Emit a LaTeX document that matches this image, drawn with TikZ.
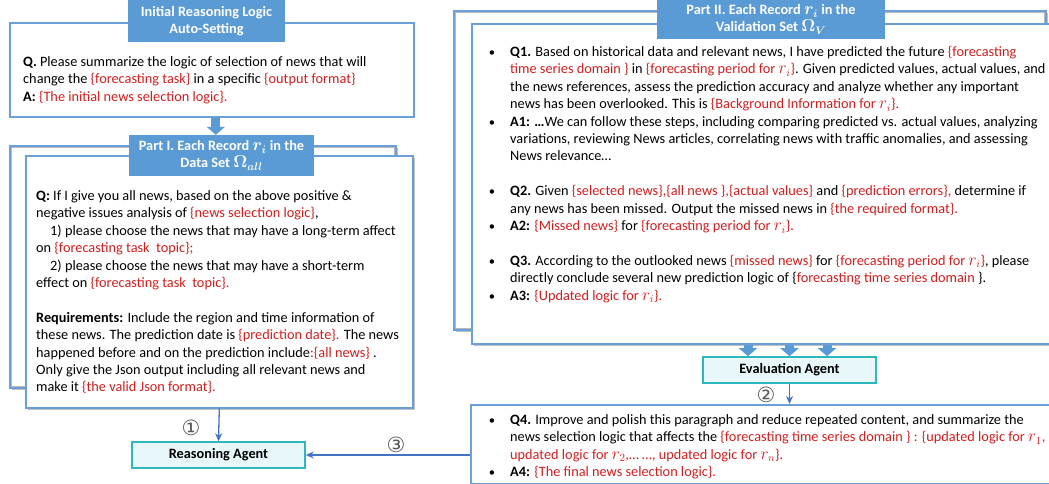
\documentclass[tikz,border=0pt]{standalone}
\usepackage{fontspec}
\setmainfont{Carlito}
\newfontfamily\circfont{DejaVu Sans}
\usetikzlibrary{shadows,arrows.meta}
\definecolor{hdrc}{HTML}{5B9BD5}
\definecolor{bord}{HTML}{6A9FD8}
\definecolor{redt}{HTML}{D01F1F}
\definecolor{tealb}{HTML}{2EB8BE}
\definecolor{cyanf}{HTML}{E8F8FA}
\definecolor{arrc}{HTML}{4472C4}
\newcommand{\rd}[1]{\textcolor{redt}{#1}}
\newcommand{\bodyfont}{\fontsize{14.3}{17.4}\selectfont}
\newcommand{\bul}{\llap{{\fontsize{12.5}{12}\selectfont\textbullet}\hspace{15pt}}}
\newcommand{\rx}[1]{{\fontsize{16}{17.4}\selectfont$r_{#1}$}}
\tikzset{
  box/.style={draw=bord, line width=1.6pt, fill=white, inner sep=0, anchor=north west},
  shbox/.style={box, drop shadow={shadow xshift=2pt, shadow yshift=-2pt, opacity=0.35, fill=black!70}},
  hdr/.style={fill=hdrc, text=white, font=\bfseries\boldmath\fontsize{14.3}{17}\selectfont, align=center, inner sep=0},
  agent/.style={draw=tealb, line width=1.6pt, fill=cyanf, font=\bfseries\fontsize{14.3}{17}\selectfont, minimum width=173pt, minimum height=26pt, inner sep=0},
  conn/.style={draw=arrc, line width=1.3pt, -{Stealth[length=8pt,width=7pt]}},
  barrow/.style={draw=hdrc, line width=9pt, -{Triangle[length=8pt,width=18pt]}},
  txt/.style={anchor=north west, align=left, inner sep=0, font=\bodyfont},
  num/.style={font=\circfont\fontsize{21}{21}\selectfont, text=black!65, inner sep=0},
}
\begin{document}
\begin{tikzpicture}[x=1pt,y=-1pt]
\clip (0,0) rectangle (1049,484);
\fill[white] (0,0) rectangle (1049,484);

% ---------- Initial box ----------
\node[box, minimum width=404pt, minimum height=94pt] (b0) at (9,22) {};
\node[hdr, minimum width=157pt, minimum height=42pt] (h0) at (206.5,21) {Initial Reasoning Logic\\Auto-Setting};
\node[txt] (t0) at (23,54.2) {\strut\textbf{Q.} Please summarize the logic of selection of news that will\\
change the \rd{\{forecasting task\}} in a specific \rd{\{output format\}}\\
\textbf{A:} \rd{\{The initial news selection logic\}.}};

% ---------- Part I ----------
\node[shbox, minimum width=386pt, minimum height=242pt] (k1) at (9,145) {};
\draw[gray!55, line width=0.8pt] ([shift={(2.5pt,-2.5pt)}]k1.north west) rectangle ([shift={(-2.5pt,2.5pt)}]k1.south east);
\node[shbox, minimum width=387pt, minimum height=252pt] (f1) at (25,155) {};
\node[hdr, minimum width=185pt, minimum height=41pt] (h1) at (221.5,155.5) {Part I. Each Record \rx{i} in the\\Data Set {\fontsize{16}{17}\selectfont$\Omega_{all}$}};
\draw[barrow] ([xshift=4pt]b0.south) -- ([xshift=4pt]b0.south |- h1.north);
\node[txt] (t1) at (36,188.2) {\strut\textbf{Q:} If I give you all news, based on the above positive \&\\
negative issues analysis of \rd{\{news selection logic\}},\\
\hspace{14pt}1) please choose the news that may have a long-term affect\\
on \rd{\{forecasting task\ \ topic\};}\\
\hspace{14pt}2) please choose the news that may have a short-term\\
effect on \rd{\{forecasting task\ \ topic\}.}\\[17.4pt]
\textbf{Requirements:} Include the region and time information of\\
these news. The prediction date is \rd{\{prediction date\}.} The news\\
happened before and on the prediction include\rd{:\{all news\}} .\\
Only give the Json output including all relevant news and\\
make it \rd{\{the valid Json format\}.}};

% ---------- Reasoning agent ----------
\node[agent] (ra) at (218.5,455) {Reasoning Agent};
\draw[conn] (f1.south) -- (ra.north);
\node[num] (n1) at (191,428) {①};

% ---------- Part II ----------
\node[shbox, minimum width=592pt, minimum height=319pt] (k2) at (453,10) {};
\draw[gray!55, line width=0.8pt] ([shift={(2.5pt,-2.5pt)}]k2.north west) rectangle ([shift={(-2.5pt,2.5pt)}]k2.south east);
\node[shbox, minimum width=600pt, minimum height=320pt] (f2) at (471,23) {};
\node[hdr, minimum width=228pt, minimum height=39pt] (h2) at (771,19.5) {Part II. Each Record \rx{i} in the\\Validation Set {\fontsize{16}{17}\selectfont$\Omega_V$}};
\node[txt] (t2) at (510,44.2) {\strut\bul\textbf{Q1.} Based on historical data and relevant news, I have predicted the future \rd{\{forecasting}\\
\rd{time series domain \}} in \rd{\{forecasting period for \rx{i}\}}. Given predicted values, actual values, and\\
the news references, assess the prediction accuracy and analyze whether any important\\
news has been overlooked. This is \rd{\{Background Information for \rx{i}\}.}\\
\bul\textbf{A1: …}We can follow these steps, including comparing predicted vs. actual values, analyzing\\
variations, reviewing News articles, correlating news with traffic anomalies, and assessing\\
News relevance…\\[17.4pt]
\bul\textbf{Q2.} Given \rd{\{selected news\},\{all news \},\{actual values\}} and \rd{\{prediction errors\},} determine if\\
any news has been missed. Output the missed news in \rd{\{the required format\}.}\\
\bul\textbf{A2:} \rd{\{Missed news\}} for \rd{\{forecasting period for \rx{i}\}.}\\[17.4pt]
\bul\textbf{Q3.} According to the outlooked news \rd{\{missed news\}} for \rd{\{forecasting period for \rx{i}\}}, please\\
directly conclude several new prediction logic of \{\rd{forecasting time series domain }\}.\\
\bul\textbf{A3:} \rd{\{Updated logic for \rx{i}\}.}};

% ---------- Evaluation agent ----------
\node[agent] (ea) at (789.5,370) {Evaluation Agent};
\draw[barrow] ([xshift=-41.5pt]ea.north |- f2.south) -- ([xshift=-41.5pt]ea.north);
\draw[barrow] (ea.north |- f2.south) -- (ea.north);
\draw[barrow] ([xshift=37.5pt]ea.north |- f2.south) -- ([xshift=37.5pt]ea.north);

% ---------- Q4 box ----------
\node[box, minimum width=600pt, minimum height=79pt] (q4) at (470,404) {};
\node[txt] (t4) at (510,412.2) {\strut\bul\textbf{Q4.} Improve and polish this paragraph and reduce repeated content, and summarize the\\
news selection logic that affects the \rd{\{forecasting time series domain \} : \{updated logic for \rx{1},}\\
\rd{updated logic for \rx{2},… …, updated logic for \rx{n}\}.}\\
\bul\textbf{A4:} \rd{\{The final news selection logic\}.}};
\draw[conn] (ea.south) -- (ea.south |- q4.north);
\node[num] (n2) at (766,395) {②};
\draw[conn] (q4.west |- ra.east) -- (ra.east);
\node[num] (n3) at (396,445) {③};
\end{tikzpicture}
\end{document}
